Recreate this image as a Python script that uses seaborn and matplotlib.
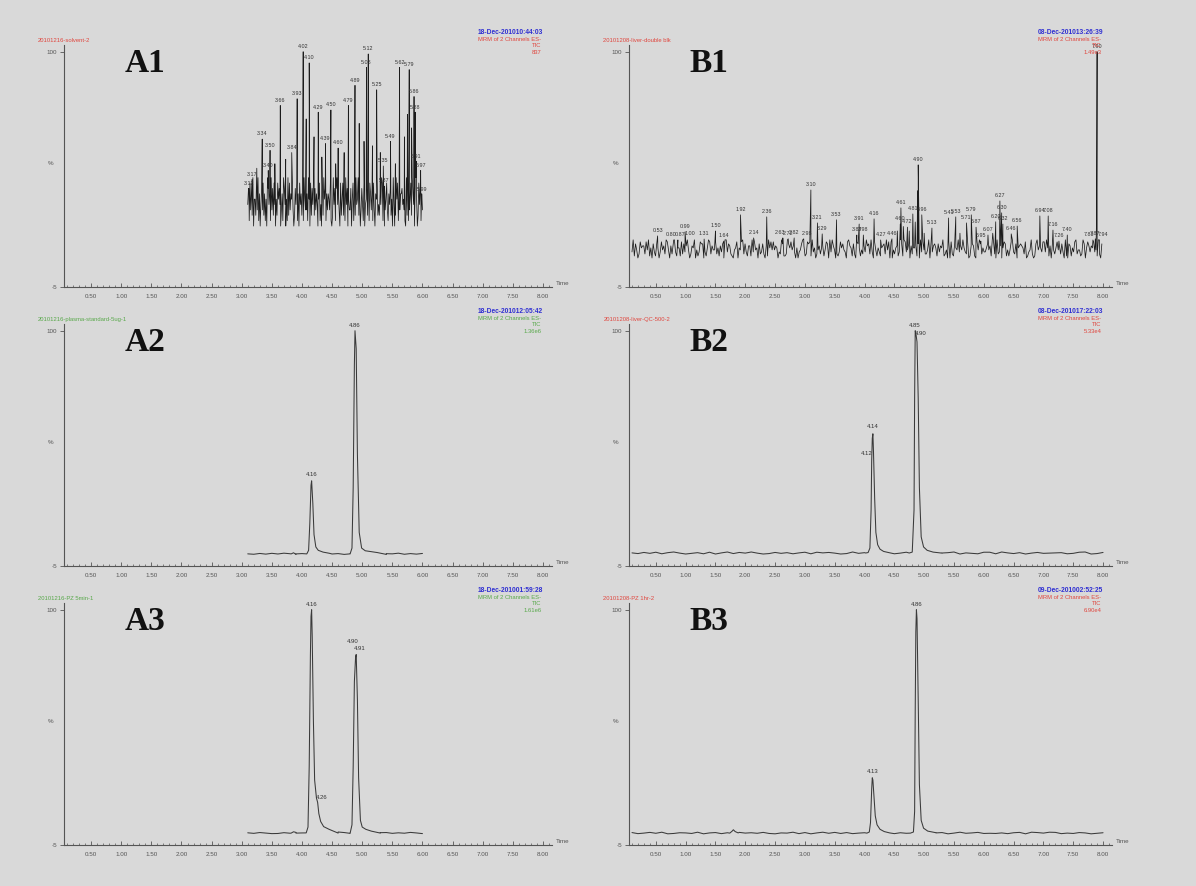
import numpy as np
import pandas as pd
import matplotlib
matplotlib.use("Agg")
import matplotlib.pyplot as plt
import seaborn as sns

# ---------------------------------------------------------------
# data (time in min, % of max)
# ---------------------------------------------------------------
# noise bands: one digit per scan, 0..9 = bottom..top of the band
A1_NOISE = ("4718362905 5283916047 3826150974 6193728405 2857403619 "
            "7405192836 5930274816 0846271953 3619508274 9273640581 "
            "4082957163 6538102947 1794630825 8261947053 3705816294 "
            "5926037418 0457291863 7183065924 2649817035 8316472509 "
            "4029581736 6745310928 1358296407 9502847163")
B1_NOISE = ("3917402856 6284915073 1750384629 8406279315 5182736940 "
            "2659041387 7031598264 4825163709 9376210458 0548927316 "
            "6193845072 3720619584 8465032971 1297584630 5034796128 "
            "7819350246 2561487093 9640213857 4308965172 0875142639 "
            "6729308415 3156729480 8042561397 1983470625 5617093842 "
            "2490836751 7365912408 0821754936 4953280167 6108497253 "
            "3574619820 9236058714 1489327056 7652801349 2017946538 "
            "8395160742 5846273091 0761538924 4129705863 6583419207")
A2_NOISE = "4172839506 2917360485 5830491627"
A3_NOISE = "6284017395 3059148276 1748263950"
B2_NOISE = ("5273816940 3618059274 9402736158 1857402936 "
            "6039148275 2746905318 8195260473 4561389027")
B3_NOISE = ("7148390265 2905716384 6382054917 0593827146 "
            "8427163059 1670493582 3251680974 9814275036")

# A1 solvent blank: spikes standing out of the noise
A1_SPIKE_T = [3.12, 3.17, 3.25, 3.34, 3.44, 3.47, 3.55, 3.64, 3.73, 3.83,
              3.92, 4.02, 4.07, 4.12, 4.20, 4.27, 4.33, 4.39, 4.48, 4.56,
              4.60, 4.70, 4.77, 4.88, 4.95, 5.03, 5.07, 5.10, 5.17, 5.24,
              5.30, 5.35, 5.37, 5.47, 5.55, 5.62, 5.70, 5.75, 5.78, 5.82,
              5.86, 5.88, 5.90, 5.97, 5.99]
A1_SPIKE_V = [39, 43, 48, 61, 47, 56, 50, 76, 52, 55,
              79, 100, 70, 95, 62, 73, 53, 59, 74, 50,
              57, 55, 76, 85, 68, 60, 93, 99, 58, 83,
              55, 49, 40, 60, 50, 93, 62, 72, 92, 66,
              80, 73, 51, 47, 36]
A1_SPIKE_LBL = ["3.12", "3.17", "", "3.34", "3.40", "3.50", "", "3.66", "", "3.84",
                "3.93", "4.02", "", "4.10", "", "4.29", "", "4.39", "4.50", "",
                "4.60", "", "4.79", "4.89", "", "", "5.08", "5.12", "", "5.25",
                "", "5.35", "5.37", "5.49", "", "5.62", "", "", "5.79", "",
                "5.86", "5.88", "5.91", "5.97", "5.99"]

# B1 liver double blank
B1_SPIKE_T = [0.53, 0.80, 0.87, 0.99, 1.00, 1.31, 1.50, 1.64, 1.92, 2.14,
              2.36, 2.63, 2.72, 2.82, 2.98, 3.10, 3.21, 3.29, 3.53, 3.87,
              3.91, 3.98, 4.16, 4.27, 4.46, 4.55, 4.60, 4.61, 4.65, 4.72,
              4.75, 4.81, 4.85, 4.89, 4.90, 4.91, 4.96, 5.00, 5.13, 5.41,
              5.53, 5.60, 5.71, 5.79, 5.87, 5.95, 6.07, 6.15, 6.20, 6.27,
              6.30, 6.32, 6.46, 6.56, 6.94, 7.08, 7.16, 7.26, 7.40, 7.83,
              7.87, 7.89, 7.90, 7.94]
B1_SPIKE_V = [17.8, 16, 16, 19.6, 16.5, 16.4, 20, 15.5, 27.2, 16.9,
              26.3, 16.9, 16.5, 16.9, 16.5, 38.3, 23.6, 18.7, 25, 18.2,
              23.1, 18.2, 25.4, 16, 16.5, 20, 23.1, 30.3, 22, 21.7,
              20, 27.6, 24, 38, 49.5, 30, 27.2, 19, 21.3, 25.8,
              26.3, 19, 23.6, 27.2, 21.7, 15.5, 18.2, 19, 24.1, 33.4,
              28.1, 23.1, 18.7, 22.2, 26.7, 26.7, 20.4, 15.5, 18.2, 16,
              16.5, 24, 100, 16]
B1_SPIKE_LBL = ["0.53", "0.80", "0.87", "0.99", "1.00", "1.31", "1.50", "1.64", "1.92", "2.14",
                "2.36", "2.63", "2.72", "2.82", "2.98", "3.10", "3.21", "3.29", "3.53", "3.87",
                "3.91", "3.98", "4.16", "4.27", "4.46", "", "4.60", "4.61", "", "4.72",
                "", "4.81", "", "", "4.90", "", "4.96", "", "5.13", "5.41",
                "5.53", "", "5.71", "5.79", "5.87", "5.95", "6.07", "", "6.20", "6.27",
                "6.30", "6.32", "6.46", "6.56", "6.94", "7.08", "7.16", "7.26", "7.40", "7.83",
                "7.87", "", "7.90", "7.94"]

# A2 plasma standard
A2_BLIP_T = [3.82, 3.86, 3.90]
A2_BLIP_V = [0.4, 0.9, 0.4]
A2_PEAK1_T = [4.08, 4.11, 4.13, 4.15, 4.16, 4.18, 4.20, 4.23, 4.27, 4.35, 4.45]
A2_PEAK1_V = [0.4, 2, 14, 31, 33, 23, 9, 3.5, 2, 1.2, 0.7]
A2_PEAK2_T = [4.80, 4.83, 4.85, 4.87, 4.88, 4.90, 4.92, 4.95, 4.99, 5.05, 5.25, 5.40]
A2_PEAK2_V = [0.5, 3, 30, 85, 100, 92, 45, 10, 3, 1.8, 1.0, 0.5]
A2_LBL_T = [4.16, 4.88]
A2_LBL_V = [34.5, 101]
A2_LBL = ["4.16", "4.86"]

# A3 PZ 5 min
A3_BLIP_T = [3.82, 3.86, 3.90]
A3_BLIP_V = [0.3, 0.9, 0.3]
A3_PEAK1_T = [4.07, 4.10, 4.12, 4.14, 4.15, 4.16, 4.17, 4.19, 4.21, 4.24, 4.26,
              4.28, 4.31, 4.36, 4.45, 4.60]
A3_PEAK1_V = [0.4, 3, 30, 80, 97, 100, 88, 50, 24, 16, 14,
              9, 5.5, 3.2, 2, 0.8]
A3_PEAK2_T = [4.80, 4.83, 4.85, 4.87, 4.89, 4.90, 4.92, 4.94, 4.97, 5.00, 5.06,
              5.15, 5.30]
A3_PEAK2_V = [0.4, 4, 30, 68, 79, 80, 60, 25, 6, 3, 2, 1.2, 0.5]
A3_LBL_T = [4.16, 4.33, 4.85, 4.95]
A3_LBL_V = [101, 15, 84.5, 81.5]
A3_LBL = ["4.16", "4.26", "4.90", "4.91"]

# B2 liver QC 500
B2_PEAK1_T = [4.02, 4.06, 4.09, 4.11, 4.12, 4.13, 4.14, 4.15, 4.17, 4.19, 4.22,
              4.26, 4.32, 4.42]
B2_PEAK1_V = [0.8, 1.0, 3, 20, 42, 52, 54, 46, 25, 10, 4.5, 2.5, 1.5, 0.9]
B2_PEAK2_T = [4.75, 4.80, 4.83, 4.84, 4.85, 4.86, 4.88, 4.90, 4.92, 4.95, 4.99,
              5.05, 5.15, 5.30]
B2_PEAK2_V = [0.8, 1.2, 20, 70, 100, 99, 95, 70, 30, 8, 3.5, 2, 1.2, 0.8]
B2_LBL_T = [4.13, 4.03, 4.84, 4.94]
B2_LBL_V = [56, 44, 101, 97.5]
B2_LBL = ["4.14", "4.12", "4.85", "4.90"]

# B3 PZ 1 hr
B3_BLIP_T = [1.74, 1.78, 1.80, 1.83, 1.88]
B3_BLIP_V = [0.3, 1.2, 1.8, 1.0, 0.4]
B3_PEAK1_T = [4.04, 4.08, 4.10, 4.12, 4.13, 4.14, 4.16, 4.18, 4.21, 4.26, 4.33, 4.42]
B3_PEAK1_V = [0.3, 0.8, 5, 20, 25, 24, 16, 8, 4, 2, 1, 0.4]
B3_PEAK2_T = [4.77, 4.82, 4.84, 4.85, 4.86, 4.87, 4.88, 4.90, 4.92, 4.95, 4.99,
              5.06, 5.20]
B3_PEAK2_V = [0.3, 0.8, 10, 55, 90, 100, 96, 60, 22, 6, 2.5, 1.2, 0.4]
B3_LBL_T = [4.13, 4.87]
B3_LBL_V = [26.5, 101]
B3_LBL = ["4.13", "4.86"]

# headers
PANELS = ["A1", "A2", "A3", "B1", "B2", "B3"]
NAMES = ["20101216-solvent-2", "20101216-plasma-standard-5ug-1", "20101216-PZ 5min-1",
         "20101208-liver-double blk", "20101208-liver-QC-500-2", "20101208-PZ 1hr-2"]
DATES = ["18-Dec-201010:44:03", "18-Dec-201012:05:42", "18-Dec-201001:59:28",
         "08-Dec-201013:26:39", "08-Dec-201017:22:03", "09-Dec-201002:52:25"]
SCALES = ["837", "1.36e6", "1.61e6", "1.49e3", "5.33e4", "6.90e4"]
TICKS = np.arange(0.5, 8.01, 0.5)
TICK_LBL = ["%.2f" % t for t in TICKS]

RED, GREEN, BLUE = "#e0463e", "#58a84a", "#2f2fd2"
HEAD_COL = [RED, GREEN, GREEN, RED, RED, RED]
BG = "#d9d9d9"

# crowded labels are pushed sideways a little, like MassLynx does
LABEL_NUDGE = {"0.80": -0.05, "0.87": 0.04, "1.00": 0.08, "2.63": -0.05,
               "2.98": 0.05, "7.83": -0.07, "7.94": 0.06}


def trace(span, noise, level, step, segments):
    digits = np.array([int(c) for c in noise.replace(" ", "")])
    vals = level + (digits - 4.5) * step
    t = np.linspace(span[0], span[1], len(vals))
    keep = np.ones(len(t), bool)
    for st, sv in segments:
        if len(st) > 1:
            keep &= ~((t > st[0]) & (t < st[-1]))
    tt = np.concatenate([t[keep]] + [np.asarray(s[0], float) for s in segments])
    vv = np.concatenate([vals[keep]] + [np.asarray(s[1], float) for s in segments])
    order = np.argsort(tt, kind="stable")
    return pd.DataFrame({"time": tt[order], "pct": vv[order]})


spikes_a1 = [([t], [v]) for t, v in zip(A1_SPIKE_T, A1_SPIKE_V)]
spikes_b1 = [([t], [v]) for t, v in zip(B1_SPIKE_T, B1_SPIKE_V)]

traces = {
    "A1": trace((3.10, 6.00), A1_NOISE, 33.0, 2.4, spikes_a1),
    "A2": trace((3.10, 6.00), A2_NOISE, 0.45, 0.06,
                [(A2_BLIP_T, A2_BLIP_V), (A2_PEAK1_T, A2_PEAK1_V), (A2_PEAK2_T, A2_PEAK2_V)]),
    "A3": trace((3.10, 6.00), A3_NOISE, 0.35, 0.06,
                [(A3_BLIP_T, A3_BLIP_V), (A3_PEAK1_T, A3_PEAK1_V), (A3_PEAK2_T, A3_PEAK2_V)]),
    "B1": trace((0.10, 7.98), B1_NOISE, 12.0, 0.9, spikes_b1),
    "B2": trace((0.10, 8.00), B2_NOISE, 0.8, 0.1,
                [(B2_PEAK1_T, B2_PEAK1_V), (B2_PEAK2_T, B2_PEAK2_V)]),
    "B3": trace((0.10, 8.00), B3_NOISE, 0.35, 0.08,
                [(B3_BLIP_T, B3_BLIP_V), (B3_PEAK1_T, B3_PEAK1_V), (B3_PEAK2_T, B3_PEAK2_V)]),
}
labels = {
    "A1": (A1_SPIKE_T, A1_SPIKE_V, A1_SPIKE_LBL),
    "A2": (A2_LBL_T, A2_LBL_V, A2_LBL),
    "A3": (A3_LBL_T, A3_LBL_V, A3_LBL),
    "B1": (B1_SPIKE_T, B1_SPIKE_V, B1_SPIKE_LBL),
    "B2": (B2_LBL_T, B2_LBL_V, B2_LBL),
    "B3": (B3_LBL_T, B3_LBL_V, B3_LBL),
}
spiky = {"A1": 1.2, "B1": 1.2}

sns.set_style("ticks")
plt.rcParams["font.family"] = ["Liberation Sans", "DejaVu Sans"]

fig = plt.figure(figsize=(11.96, 8.86), dpi=100, facecolor=BG)
W, H = 1196.0, 886.0
col_left = {"A": (64, 488), "B": (629, 483)}
row_bottom = [287, 566, 845]
ax_h = 242

for i, name in enumerate(PANELS):
    left, width = col_left[name[0]]
    bottom = row_bottom[int(name[1]) - 1]
    ax = fig.add_axes([left / W, 1 - bottom / H, width / W, ax_h / H])
    ax.set_facecolor(BG)

    df = traces[name]
    lw = 0.55 if name in spiky else 0.75
    col = "#1c1c1c" if name in spiky else "#3a3a3a"
    sns.lineplot(data=df, x="time", y="pct", ax=ax, estimator=None, sort=False,
                 color=col, linewidth=lw, legend=False)

    lt, lv, lt_txt = labels[name]
    off = spiky.get(name, 0.3)
    fs = 3.9 if name in spiky else 4.3
    for t, v, s in zip(lt, lv, lt_txt):
        if s:
            dx = LABEL_NUDGE.get(s, 0.0) if name == "B1" else 0.0
            ax.text(t + dx, v + off, s, ha="center", va="bottom", fontsize=fs,
                    color="#333333")

    ax.set_xlim(0.05, 8.15)
    ax.set_ylim(-5, 103)
    ax.set_xticks(TICKS)
    ax.set_xticklabels(TICK_LBL)
    ax.set_xticks(np.arange(0.1, 8.11, 0.1), minor=True)
    ax.set_yticks([-5, 100])
    ax.set_yticklabels(["-5", "100"])
    ax.tick_params(axis="x", which="major", direction="in", length=3, width=0.6,
                   labelsize=4.5, colors="#555555", pad=5)
    ax.tick_params(axis="x", which="minor", direction="in", length=1.5, width=0.5,
                   colors="#555555")
    ax.tick_params(axis="y", direction="out", length=3, width=0.6, labelsize=4.5,
                   colors="#555555", pad=2)
    ax.set_xlabel("")
    ax.set_ylabel("")
    for side in ["top", "right"]:
        ax.spines[side].set_visible(False)
    for side in ["left", "bottom"]:
        ax.spines[side].set_color("#555555")
        ax.spines[side].set_linewidth(0.8)

    ax.text(-0.022, 50, "%", transform=ax.get_yaxis_transform(), ha="right",
            va="center", fontsize=4.5, color="#555555")
    ax.text(1.008, -3.5, "Time", transform=ax.get_yaxis_transform(), ha="left",
            va="center", fontsize=4.5, color="#555555")
    ax.text(0.125, 0.888, name, transform=ax.transAxes, ha="left", va="baseline",
            fontsize=24, fontweight="bold", family="Liberation Serif", color="#111111")

    hc = HEAD_COL[i]
    ax.text(-0.053, 1.017, NAMES[i], transform=ax.transAxes, ha="left", va="center",
            fontsize=4.2, color=hc)
    ax.text(0.982, 1.05, DATES[i], transform=ax.transAxes, ha="right", va="center",
            fontsize=4.8, fontweight="bold", color=BLUE)
    ax.text(0.978, 1.021, "MRM of 2 Channels ES-", transform=ax.transAxes, ha="right",
            va="center", fontsize=4.2, color=hc)
    ax.text(0.978, 0.996, "TIC", transform=ax.transAxes, ha="right", va="center",
            fontsize=4.2, color=hc)
    ax.text(0.978, 0.971, SCALES[i], transform=ax.transAxes, ha="right", va="center",
            fontsize=4.2, color=hc)

fig.savefig("out.png", dpi=100, facecolor=BG)
